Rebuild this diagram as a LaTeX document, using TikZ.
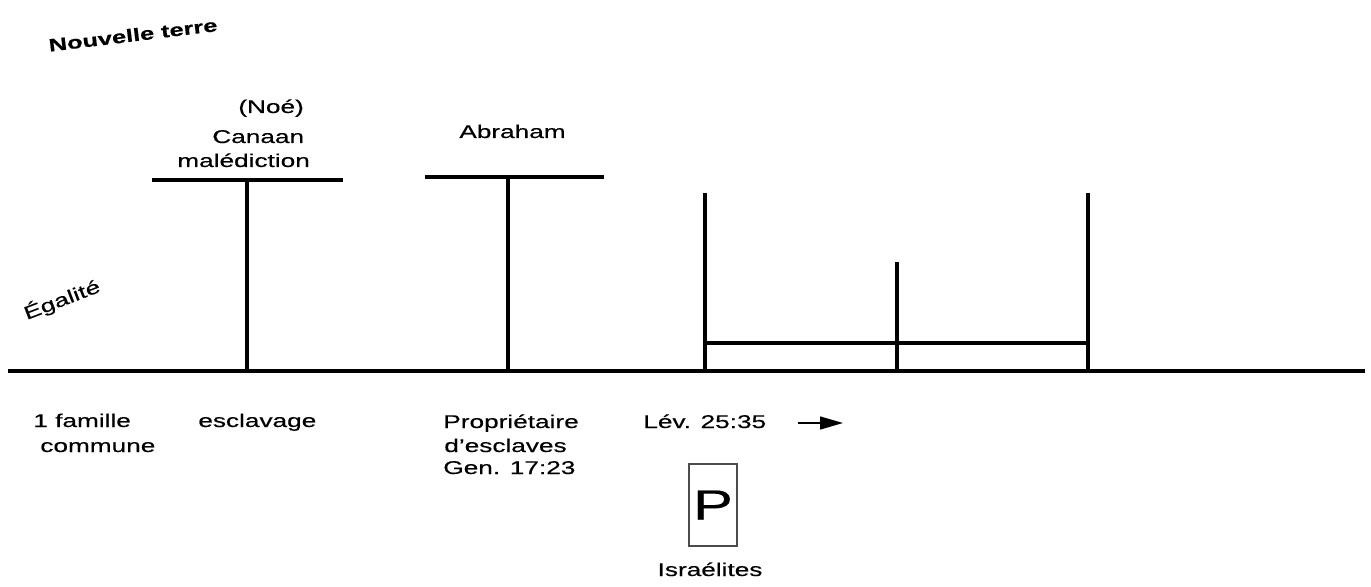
\documentclass[tikz,border=0pt]{standalone}
\usepackage{fontspec}
\setmainfont{Liberation Sans}[FakeStretch=1.42, FakeBold=0.4]
\usetikzlibrary{arrows.meta}

\tikzset{
  bar/.style={line width=2.3pt},
  lbl/.style={inner sep=0pt, anchor=base west, font=\fontsize{10.5}{13}\selectfont},
}

\begin{document}
\begin{tikzpicture}[x=0.02cm, y=-0.02cm]
                \useasboundingbox (0,0) rectangle (1371,587);
                % Axis and bars:
                \draw[bar] (8,371) -- (1365,371);
                \draw[bar] (152,180) -- (343,180);
                \draw[bar] (247,180) -- (247,371);
                \draw[bar] (425,177) -- (604,177);
                \draw[bar] (508,177) -- (508,371);
                \draw[bar] (705,193) -- (705,371);
                \draw[bar] (1088,193) -- (1088,371);
                \draw[bar] (897,262) -- (897,371);
                \draw[bar] (705,343) -- (1088,343);
                % Labels:
                \node[lbl, anchor=center, font=\bfseries\fontsize{10.2}{13}\selectfont, rotate=7] (nouv) at (133,35) {Nouvelle terre};
                \node[lbl, anchor=center, rotate=21] (egal) at (62,300) {Égalité};
                \node[lbl] (noe) at (238,113) {(Noé)};
                \node[lbl] (canaan) at (212,143) {Canaan};
                \node[lbl] (maled) at (177,167) {malédiction};
                \node[lbl] (abraham) at (459,138) {Abraham};
                \node[lbl] (fam1) at (33,427) {1 famille};
                \node[lbl] (fam2) at (40,452) {commune};
                \node[lbl] (escl) at (198,427) {esclavage};
                \node[lbl] (prop1) at (443,428) {Propriétaire};
                \node[lbl] (prop2) at (444,452) {d’esclaves};
                \node[lbl] (prop3) at (443,474) {Gen. 17:23};
                \node[lbl] (lev) at (643,428) {Lév. 25:35};
                \coordinate (arrS) at (798,423);
                \coordinate (arrE) at (843,423);
                \draw[line width=0.8pt, -{Triangle[length=0.46cm, width=0.26cm]}] (arrS) -- (arrE);
                \node[draw=black!70, line width=0.6pt, minimum width=0.96cm, minimum height=1.64cm, inner sep=0pt, font=\fontsize{24}{24}\selectfont] (pbox) at (713,505) {P};
                \node[lbl, anchor=base] (isr) at (710,576) {Israélites};
            \end{tikzpicture}
\end{document}
